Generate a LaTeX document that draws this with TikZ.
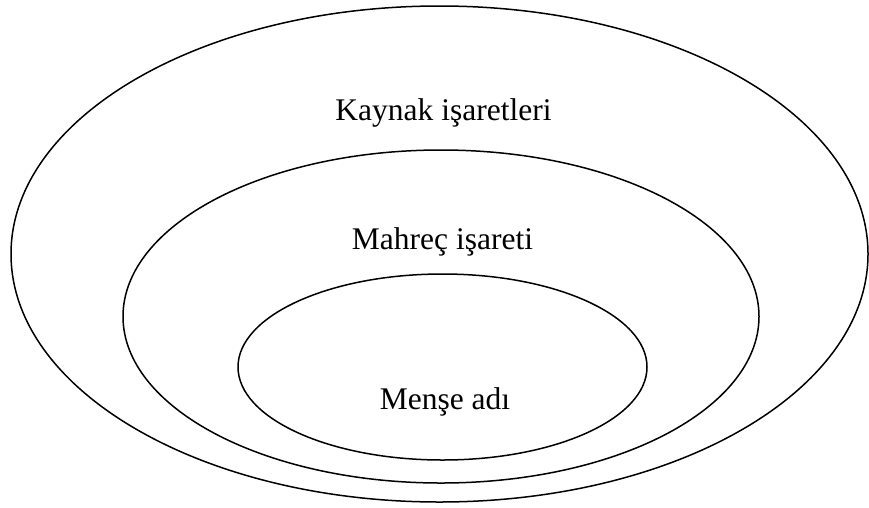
\documentclass[tikz,border=0pt]{standalone}
\usepackage{fontspec}
\setmainfont{Liberation Serif}
\begin{document}
\begin{tikzpicture}[x=1pt,y=-1pt,
  ring/.style={draw=black,line width=1.5pt},
  lbl/.style={anchor=base,inner sep=0pt,font=\fontsize{31.5}{36}\selectfont}]
\useasboundingbox (0,0) rectangle (869,507);
\draw[ring] (439.5,254) ellipse [x radius=428.5, y radius=248];
\draw[ring] (441,316.5) ellipse [x radius=318, y radius=166.5];
\draw[ring] (442.5,367) ellipse [x radius=204.5, y radius=93];
\node[lbl] (outer) at (443.5,120) {Kaynak işaretleri};
\node[lbl] (middle) at (442.5,249) {Mahreç işareti};
\node[lbl] (inner) at (445,409) {Menşe adı};
\end{tikzpicture}
\end{document}
